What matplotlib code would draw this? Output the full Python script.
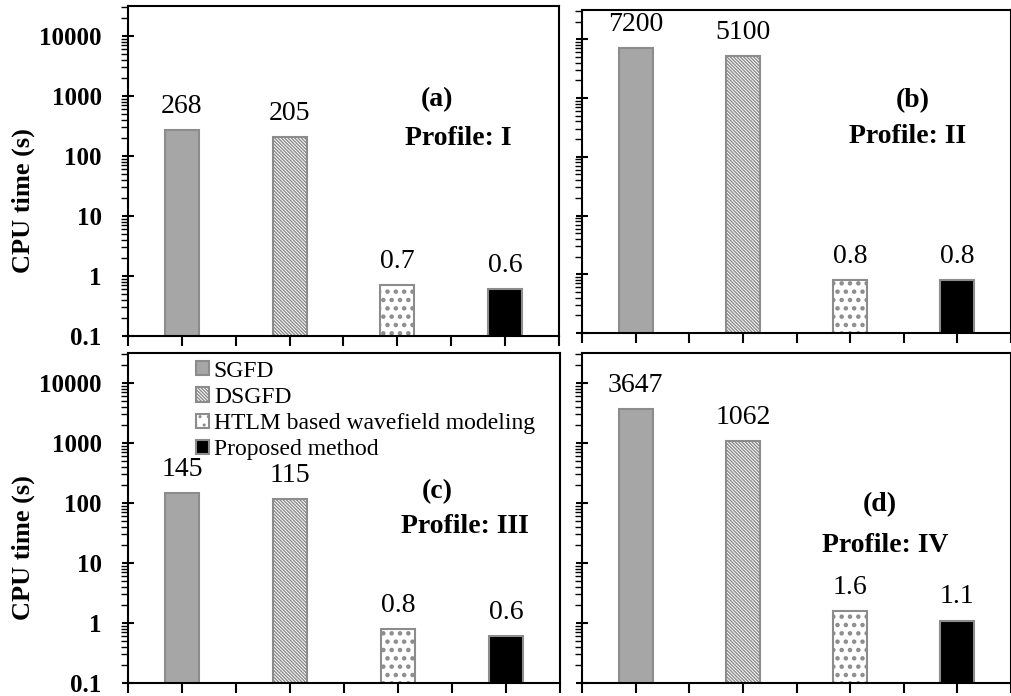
import numpy as np
import matplotlib
matplotlib.use("Agg")
import matplotlib.pyplot as plt
from matplotlib.ticker import LogLocator, NullFormatter, FixedLocator

plt.rcParams['font.family'] = ['Liberation Serif', 'DejaVu Serif']
plt.rcParams['hatch.linewidth'] = 1.0

# data
methods = ["SGFD", "DSGFD", "HTLM based wavefield modeling", "Proposed method"]
cpu_a = [268, 205, 0.7, 0.6]
cpu_b = [7200, 5100, 0.8, 0.8]
cpu_c = [145, 115, 0.8, 0.6]
cpu_d = [3647, 1062, 1.6, 1.1]
labels_a = ["268", "205", "0.7", "0.6"]
labels_b = ["7200", "5100", "0.8", "0.8"]
labels_c = ["145", "115", "0.8", "0.6"]
labels_d = ["3647", "1062", "1.6", "1.1"]
panel_tags = ["(a)", "(b)", "(c)", "(d)"]
profiles = ["Profile: I", "Profile: II", "Profile: III", "Profile: IV"]
yticks = [0.1, 1, 10, 100, 1000, 10000]
ytick_labels = ["0.1", "1", "10", "100", "1000", "10000"]

# bar styles
faces = ["#a6a6a6", "white", "white", "black"]
hatches = [None, "\\" * 10, "..", None]
edge = "#8c8c8c"

fig = plt.figure(figsize=(10.11, 6.96), dpi=100)
rects = [
    [0.1266, 0.5172, 0.4263, 0.4741],
    [0.5757, 0.5216, 0.4243, 0.4641],
    [0.1266, 0.0187, 0.4273, 0.4741],
    [0.5757, 0.0187, 0.4243, 0.4741],
]
data = [cpu_a, cpu_b, cpu_c, cpu_d]
vlabels = [labels_a, labels_b, labels_c, labels_d]
tag_pos = [(0.717, 0.715), (0.77, 0.72), (0.715, 0.579), (0.695, 0.54)]
prof_pos = [(0.766, 0.60), (0.76, 0.607), (0.78, 0.473), (0.706, 0.418)]

xpos = [1, 3, 5, 7]
for i in range(4):
    ax = fig.add_axes(rects[i])
    for j in range(4):
        if j == 2:
            plt.rcParams['hatch.linewidth'] = 2.0
        else:
            plt.rcParams['hatch.linewidth'] = 1.0
        ax.bar(xpos[j], data[i][j], width=0.63, color=faces[j],
               edgecolor=edge, linewidth=1.5, hatch=hatches[j],
               label=methods[j], zorder=2)
        ax.annotate(vlabels[i][j], (xpos[j], data[i][j]), xytext=(0, 8),
                    textcoords="offset points", ha="center", va="bottom",
                    fontsize=20)
    ax.set_yscale("log")
    ax.set_ylim(0.1, 10 ** 4.5)
    ax.set_xlim(0, 8)
    ax.set_xticks(range(0, 9))
    ax.set_xticklabels([])
    ax.yaxis.set_major_locator(FixedLocator(yticks))
    ax.yaxis.set_minor_locator(LogLocator(base=10, subs=np.arange(2, 10), numticks=20))
    ax.yaxis.set_minor_formatter(NullFormatter())
    if i in (0, 2):
        ax.set_yticklabels(ytick_labels, fontweight="bold", fontsize=18)
        ax.set_ylabel("CPU time (s)", fontweight="bold", fontsize=19)
        ax.yaxis.set_label_coords(-0.215, 0.41)
    else:
        ax.set_yticklabels([])
    ax.tick_params(axis="y", which="major", direction="inout", length=8, width=1.5, pad=15)
    ax.tick_params(axis="y", which="minor", direction="out", length=5, width=1)
    ax.tick_params(axis="x", which="major", direction="out", length=7, width=1.5)
    for s in ax.spines.values():
        s.set_linewidth(1.5)
    ax.text(tag_pos[i][0], tag_pos[i][1], panel_tags[i], transform=ax.transAxes,
            ha="center", va="center", fontsize=20, fontweight="bold")
    ax.text(prof_pos[i][0], prof_pos[i][1], profiles[i], transform=ax.transAxes,
            ha="center", va="center", fontsize=20, fontweight="bold")
    if i == 2:
        ax.legend(loc="upper left", bbox_to_anchor=(0.125, 1.02), frameon=False,
                  fontsize=17, handlelength=0.55, handleheight=0.55,
                  handletextpad=0.2, labelspacing=0.22, borderpad=0.1)

fig.savefig("out.png", dpi=100)
